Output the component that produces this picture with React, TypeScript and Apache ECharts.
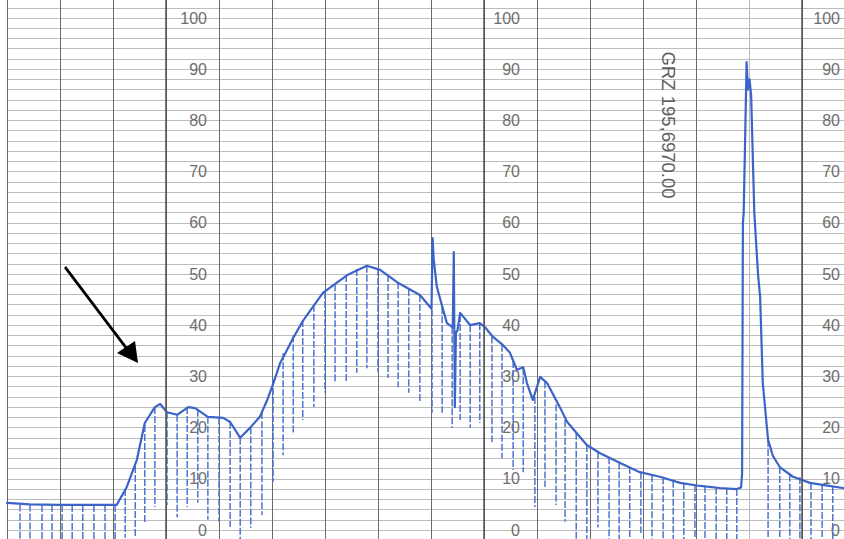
import React, { useEffect, useRef } from "react";
import * as echarts from "echarts";

// Pen trace (x in chart divisions*10, y in % of scale)
const traceX = [
  0, 4.3, 10.0, 20.7, 22.6, 24.5, 26.0, 27.9, 28.9, 30.2, 32.1, 34.2, 35.5, 37.9,
  40.8, 42.1, 44.0, 45.8, 47.7, 49.1, 50.2, 51.5, 54.0, 55.8, 59.6, 64.2, 67.9,
  70.4, 73.6, 77.9, 80.1, 80.3, 80.5, 81.1, 82.3, 83.0, 84.1, 84.3, 84.5, 84.7,
  85.0, 85.5, 87.4, 89.2, 90.2, 91.7, 93.6, 94.9, 96.2, 97.4, 98.1, 99.2, 100.6,
  101.9, 104.3, 105.7, 107.5, 109.4, 111.9, 115.7, 119.4, 123.2, 127.0, 130.8,
  134.5, 137.7, 138.5, 138.7, 138.85, 139.0, 139.55, 139.8, 140.1, 140.4, 141.0,
  141.7, 142.1, 142.6, 143.6, 144.5, 145.8, 148.3, 151.5, 154.5, 157.7, 160.0,
];
const traceValue = [
  5.3, 5.0, 4.9, 4.9, 8.4, 13.7, 20.9, 24.0, 24.6, 23.0, 22.5, 24.0, 23.8, 22.1,
  21.9, 21.1, 18.0, 19.9, 22.1, 25.4, 28.5, 32.5, 37.5, 40.8, 46.3, 49.8, 51.6,
  50.8, 48.4, 45.9, 43.2, 57.0, 53.0, 47.5, 43.0, 40.4, 39.6, 54.3, 24.0, 38.5,
  39.0, 42.4, 40.0, 40.4, 39.6, 37.7, 36.1, 34.6, 31.3, 31.8, 28.7, 25.4, 29.9,
  28.7, 24.0, 21.1, 18.9, 16.6, 15.0, 13.1, 11.3, 10.4, 9.2, 8.6,
  8.2, 8.0, 8.3, 11.0, 60.0, 62.0, 91.4, 86.0, 88.0, 85.0, 62.0,
  50.0, 45.5, 28.7, 17.6, 14.5, 12.3, 10.4, 9.2, 8.7, 8.2, 8.0,
];

// Printed hatch marks: position, top value, bottom value
const hatchX = [
  2.45, 4.34, 6.6, 8.5, 10.4, 12.3, 14.3, 16.4, 18.5, 20.4, 22.3, 24.2, 26.0,
  27.9, 30.2, 32.1, 34.0, 36.0, 37.9, 40.0, 42.1, 44.0, 46.0, 48.1, 50.2, 52.1,
  54.0, 55.8, 57.9, 60.0, 61.9, 64.0, 66.0, 67.9, 70.0, 71.9, 73.8, 75.8, 77.9,
  80.2, 82.1, 84.0, 85.5, 87.4, 89.2, 91.5, 93.4, 95.5, 97.4, 99.6, 101.5,
  103.6, 105.3, 107.4, 109.4, 111.5, 113.6, 115.5, 117.5, 119.6, 121.7, 123.8,
  125.7, 127.7, 129.8, 131.7, 133.8, 135.8, 137.7, 143.6, 145.8, 147.7, 149.6,
  151.7, 153.8, 155.8,
];
const hatchTop = [
  5.0, 5.0, 4.9, 4.9, 4.9, 4.9, 4.9, 4.9, 4.9, 4.9, 8.0, 12.5, 20.5,
  24.0, 23.0, 22.5, 24.0, 23.5, 22.1, 21.9, 21.1, 18.0, 20.0, 23.0, 29.5, 34.5,
  38.0, 41.0, 44.0, 46.5, 48.0, 49.8, 51.0, 51.6, 51.0, 49.8, 48.4, 47.0, 45.9,
  43.0, 43.5, 39.6, 42.0, 40.0, 40.4, 37.8, 36.2, 33.0, 31.6, 26.0, 29.0,
  24.5, 21.5, 19.0, 16.6, 15.2, 14.2, 13.2, 12.3, 11.3, 10.7, 10.3,
  9.6, 9.2, 8.8, 8.6, 8.3, 8.2, 8.0, 17.6, 12.3, 10.8, 10.3,
  9.2, 8.8, 8.4,
];
const hatchBottom = [
  -2.5, -2.5, -2.5, -2.5, -2.5, -2.5, -2.5, -2.5, -2.5, -2.5, -1.5, -1.5, 1.4,
  4.5, 4.9, 2.5, 4.5, 5.3, 2.0, 1.6, 0.6, -2.5, 0.4, 2.9, 9.4, 14.6,
  18.6, 21.5, 24.0, 26.8, 28.7, 28.9, 30.7, 31.6, 30.9, 29.7, 27.9, 26.8, 25.0,
  22.9, 22.9, 19.9, 21.5, 19.9, 20.9, 17.2, 14.0, 11.7, 11.3, 4.5, 8.4,
  4.9, 1.6, -2.5, -2.5, 0.5, -2.5, -2.5, -2.5, -0.6, -2.5, -2.5,
  -2.5, -2.5, -2.5, -2.5, -2.5, -2.5, -2.5, -2.5, -2.5, -2.5, -2.5,
  -2.5, -2.5, -2.5,
];

const scaleLabels = [0, 10, 20, 30, 40, 50, 60, 70, 80, 90, 100];
const labelColumns = [30, 90, 150]; // chart divisions carrying the scale
const stampText = "GRZ 195,6970.00";

export default function App() {
  const ref = useRef<HTMLDivElement>(null);

  useEffect(() => {
    if (!ref.current) return;
    const chart = echarts.init(ref.current, null, { renderer: "svg" });

    const traceData = traceX.map((x, i) => [x, traceValue[i]]);
    const hatchData = hatchX.map((x, i) => [x, hatchTop[i], hatchBottom[i]]);

    const vColors = [] as string[];
    for (let i = 0; i <= 16; i++) vColors.push(i === 14 ? "#b8b8b8" : "#6a6a6a");

    const labelAxis = (offset: number) => ({
      type: "value",
      min: -10,
      max: 110,
      interval: 10,
      position: "left",
      offset,
      axisLine: { show: false, onZero: false },
      axisTick: { show: false },
      splitLine: { show: false },
      axisLabel: {
        show: true,
        margin: 2,
        color: "#6e6e6e",
        fontSize: 16,
        fontFamily: "Liberation Sans",
        formatter: (v: number) => (scaleLabels.indexOf(v) >= 0 ? String(v) : ""),
      },
    });

    chart.setOption({
      animation: false,
      backgroundColor: "#ffffff",
      grid: {
        left: 7,
        top: -33.2,
        width: 848,
        height: 614.4,
        containLabel: false,
        outerBoundsMode: "none",
      },
      xAxis: {
        type: "value",
        min: 0,
        max: 160,
        interval: 10,
        axisLine: { show: false, onZero: false },
        axisTick: { show: false },
        axisLabel: { show: false },
        splitLine: { show: true, lineStyle: { color: vColors, width: 1 } },
      },
      yAxis: [
        {
          type: "value",
          min: -10,
          max: 110,
          interval: 2,
          axisLine: { show: false, onZero: false },
          axisTick: { show: false },
          axisLabel: { show: false },
          splitLine: { show: true, lineStyle: { color: "#bdbdbd", width: 1 } },
        },
        labelAxis(-202),
        labelAxis(-515),
        labelAxis(-835),
      ],
      series: [
        {
          type: "custom",
          name: "hatch",
          data: hatchData,
          encode: { x: 0, y: [1, 2] },
          z: 2,
          silent: true,
          renderItem: (params: any, api: any) => {
            const x = api.value(0);
            const p1 = api.coord([x, api.value(1)]);
            const p2 = api.coord([x, api.value(2)]);
            return {
              type: "line",
              shape: { x1: p1[0], y1: p1[1], x2: p2[0], y2: p2[1] },
              style: { stroke: "#4f74d0", lineWidth: 1.5, lineDash: [7, 2] },
            };
          },
        },
        {
          type: "line",
          name: "trace",
          data: traceData,
          showSymbol: false,
          symbol: "none",
          z: 3,
          lineStyle: { color: "#3c64c8", width: 2.2, join: "round", cap: "round" },
          markLine: {
            silent: true,
            symbol: "none",
            label: { show: false },
            lineStyle: { color: "#555555", width: 1.5, type: "solid" },
            data: labelColumns.map((c) => ({ xAxis: c })),
          },
        },
      ],
      graphic: [
        {
          type: "polygon",
          z: 100,
          shape: { points: [[64, 268], [66, 266], [128, 348], [126, 350]] },
          style: { fill: "#000000" },
        },
        {
          type: "polygon",
          z: 100,
          shape: { points: [[138, 363], [117, 353], [135, 341]] },
          style: { fill: "#000000" },
        },
        {
          type: "text",
          z: 100,
          x: 668,
          y: 125,
          rotation: -Math.PI / 2,
          style: {
            text: stampText,
            fontSize: 18.5,
            fontFamily: "Liberation Sans",
            fill: "#5e5e5e",
            align: "center",
            verticalAlign: "middle",
          },
        },
      ],
    });

    return () => chart.dispose();
  }, []);

  return (
    <div
      ref={ref}
      style={{ position: "fixed", left: 0, top: 0, width: 844, height: 539, background: "#fff" }}
    />
  );
}
